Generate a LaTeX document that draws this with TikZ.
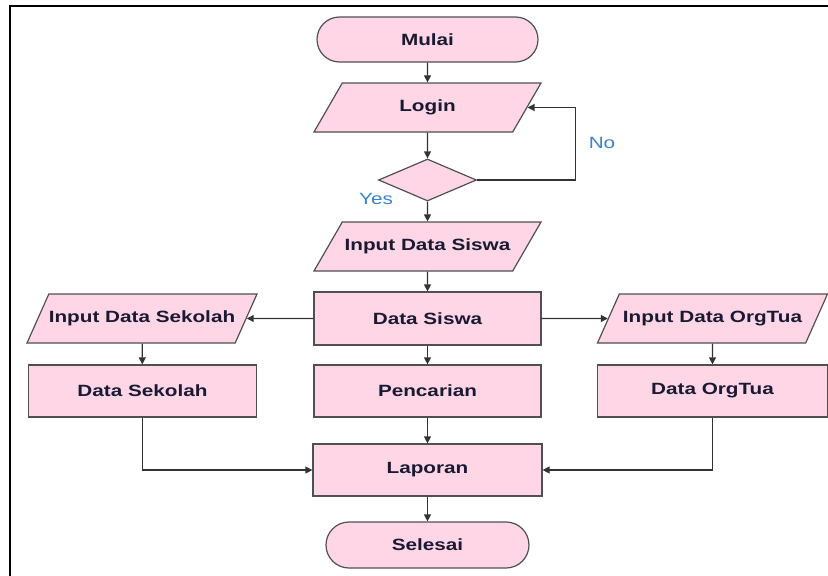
\documentclass[tikz,border=0pt]{standalone}
\usepackage{fontspec}
\setmainfont{Liberation Sans}[FakeStretch=1.27]
\usetikzlibrary{shapes.geometric,shapes.misc,arrows.meta}
\definecolor{pinkfill}{RGB}{255,214,230}
\definecolor{edgecol}{RGB}{80,80,80}
\definecolor{txtcol}{RGB}{25,25,50}
\definecolor{lblcol}{RGB}{60,130,200}
\begin{document}
\begin{tikzpicture}[x=1pt,y=-1pt,
  base/.style={draw=edgecol,fill=pinkfill,line width=1.2pt,text=txtcol,
    font=\fontsize{16.3}{18}\selectfont\bfseries,inner sep=0pt},
  term/.style={base,rounded rectangle,minimum width=#1,minimum height=45pt},
  proc/.style={base,rectangle,minimum width=228pt,minimum height=52pt},
  io/.style={base,trapezium,trapezium left angle=#1,trapezium right angle=180-#1,
    trapezium stretches body,text height=12pt,text depth=3.5pt,
    inner xsep=0pt,inner ysep=16.75pt,minimum width=227pt},
  decision/.style={base,diamond,minimum width=98pt,minimum height=42pt,aspect=2.33},
  conn/.style={draw=black!80,line width=1.2pt},
  arr/.style={conn,-{Triangle[length=7pt,width=7pt]}},
  lbl/.style={text=lblcol,font=\fontsize{16.3}{18}\selectfont,inner sep=0pt}]
\useasboundingbox (0,0) rectangle (828,576);
\draw[line width=2pt] (10,576) -- (10,6) -- (828,6);

\node[term=221pt] (mulai) at (427.5,39.5) {Mulai};
\node[io=60] (login) at (427.5,107.5) {Login};
\node[decision] (dec) at (427.5,180) {};
\node[io=60] (ids) at (427.5,246.5) {Input Data Siswa};
\node[proc,minimum width=227pt,minimum height=53pt] (ds) at (427.5,318.5) {Data Siswa};
\node[io=66] (isk) at (142,318.5) {Input Data Sekolah};
\node[proc] (dsk) at (142.5,391) {Data Sekolah};
\node[io=66,minimum width=230pt] (iot) at (712.5,318.5) {Input Data OrgTua};
\node[proc,minimum width=230pt] (dot) at (712.5,391) {Data OrgTua};
\node[proc,minimum width=227pt] (pc) at (427.5,391) {Pencarian};
\node[proc,minimum width=229pt] (lap) at (427.5,470) {Laporan};
\node[term=203pt,minimum height=46pt] (sel) at (427.5,545) {Selesai};

\node[lbl] (no) at (602,143) {No};
\node[lbl] (yes) at (376,199) {Yes};

\draw[arr] (mulai) -- (login);
\draw[arr] (login) -- (dec);
\draw[arr] (dec.east) -- ++(98,0) |- (login.east);
\draw[arr] (dec) -- (ids);
\draw[arr] (ids) -- (ds);
\draw[arr] (ds) -- (isk);
\draw[arr] (ds) -- (iot);
\draw[arr] (isk) -- (dsk);
\draw[arr] (iot) -- (dot);
\draw[arr] (ds) -- (pc);
\draw[arr] (pc) -- (lap);
\draw[arr] (dsk) |- (lap);
\draw[arr] (dot) |- (lap);
\draw[arr] (lap) -- (sel);
\end{tikzpicture}
\end{document}
